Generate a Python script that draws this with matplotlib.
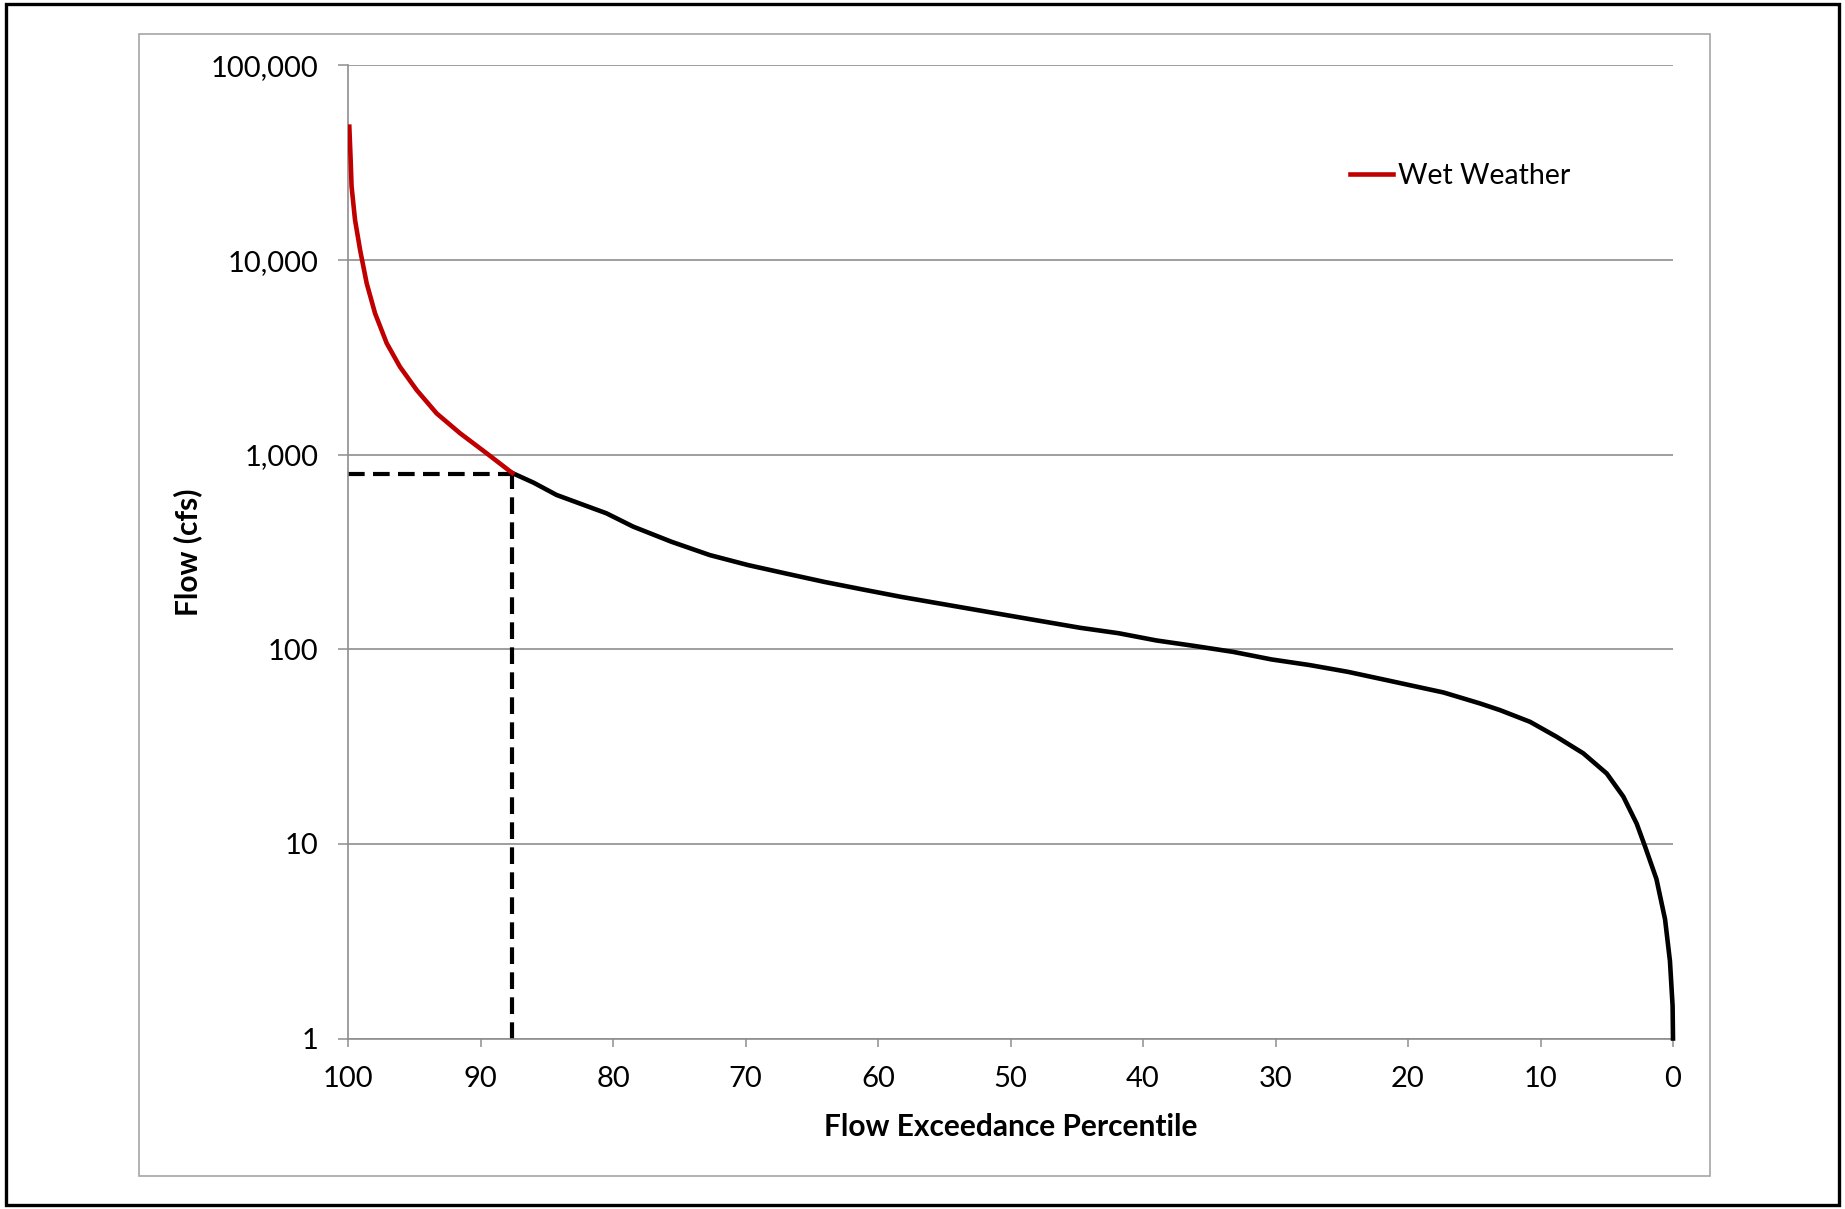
#!/usr/bin/env python3
"""Flow duration curve with the wet-weather high-flow segment highlighted."""

import matplotlib

matplotlib.use("Agg")

import matplotlib.pyplot as plt
from matplotlib.patches import Rectangle


# wet weather part of the curve (exceedance percentile, flow cfs)
wet_pct = [99.90, 99.80, 99.73, 99.47, 99.09, 98.59, 97.96, 97.08, 96.08, 94.82,
           93.31, 91.55, 89.53, 87.6]
wet_flow = [48500, 32700, 23900, 16100, 11300, 7600, 5330, 3740, 2830, 2150,
            1630, 1290, 1016, 805]

# rest of the curve
dry_pct = [87.6, 85.99, 84.26, 82.53, 80.5, 78.48, 75.59, 72.7, 69.82, 66.93,
           64.05, 61.16, 58.26, 55.38, 52.49, 49.6, 46.71, 44.75, 41.86, 38.98,
           36.1, 33.2, 30.3, 27.43, 24.54, 21.65, 18.76, 17.32, 14.57, 13.06,
           10.79, 8.78, 6.77, 5.0, 3.75, 2.74, 2.11, 1.25, 0.6, 0.23,
           0.03, 0.0]
dry_flow = [805, 718, 621, 562, 500, 427, 357, 305, 271, 245,
            222, 203, 186, 172, 159, 147, 136, 129, 121, 111,
            104, 97, 88.7, 83, 76.6, 69.5, 63, 60, 52.7, 48.7,
            42.4, 35.5, 29.2, 23.0, 17.5, 12.7, 9.7, 6.6, 4.1, 2.5,
            1.47, 1.0]

cutoff_pct = 87.6
cutoff_flow = 800

x_ticks = [100, 90, 80, 70, 60, 50, 40, 30, 20, 10, 0]
y_ticks = [1, 10, 100, 1000, 10000, 100000]
y_tick_labels = ["1", "10", "100", "1,000", "10,000", "100,000"]

GRID = "#8E8E8E"
RED = "#C00000"

plt.rcParams["font.family"] = ["Lato", "DejaVu Sans"]

W, H = 1845, 1209
fig = plt.figure(figsize=(W / 100, H / 100), dpi=100)

# outer black frame and grey chart-area border
fig.patches.append(Rectangle((6 / W, 4 / H), 1833 / W, 1201 / H, transform=fig.transFigure,
                             fill=False, edgecolor="black", linewidth=2.4))
fig.patches.append(Rectangle((139 / W, 1 - 1176 / H), 1571 / W, 1142 / H, transform=fig.transFigure,
                             fill=False, edgecolor="#A6A6A6", linewidth=1.2))

ax = fig.add_axes([348 / W, 1 - 1038.5 / H, (1673 - 348) / W, (1038.5 - 65.5) / H])

ax.plot(dry_pct, dry_flow, color="black", linewidth=3.3, clip_on=False, zorder=3,
        solid_joinstyle="round")
ax.plot(wet_pct, wet_flow, color=RED, linewidth=3.3, label="Wet Weather", zorder=4,
        solid_joinstyle="round")
ax.plot([100, cutoff_pct], [cutoff_flow, cutoff_flow], color="black", linewidth=3,
        linestyle=(0, (4, 2)), zorder=2)
ax.plot([cutoff_pct, cutoff_pct], [1, cutoff_flow], color="black", linewidth=3,
        linestyle=(0, (4, 2)), zorder=2)

ax.set_yscale("log")
ax.set_xlim(100, 0)
ax.set_ylim(1, 100000)
ax.set_xticks(x_ticks)
ax.set_xticklabels([str(t) for t in x_ticks])
ax.set_yticks(y_ticks)
ax.set_yticklabels(y_tick_labels)
ax.minorticks_off()

ax.yaxis.grid(True, color=GRID, linewidth=1.2)
ax.set_axisbelow(True)
for side in ("top", "right"):
    ax.spines[side].set_visible(False)
for side in ("left", "bottom"):
    ax.spines[side].set_color(GRID)
    ax.spines[side].set_linewidth(1.2)

ax.tick_params(axis="y", direction="out", length=7.2, width=1.1, color=GRID, labelsize=21, pad=14)
ax.tick_params(axis="x", direction="out", length=6, width=1.1, color=GRID, labelsize=21, pad=14)

ax.set_xlabel("Flow Exceedance Percentile", fontsize=21.5, fontweight="bold", va="center")
ax.xaxis.set_label_coords(0.5, (1038.5 - 1127) / (1038.5 - 65.5))
ax.set_ylabel("Flow (cfs)", fontsize=21.5, fontweight="bold", va="center")
ax.yaxis.set_label_coords((188 - 348) / (1673 - 348), 0.5)

ax.legend(loc="center left", bbox_to_anchor=(1350 / W, 1 - 176 / H), bbox_transform=fig.transFigure,
          frameon=False, fontsize=20.5, handlelength=1.5, handletextpad=0.2,
          borderpad=0, borderaxespad=0)

fig.savefig("out.png", dpi=100)
